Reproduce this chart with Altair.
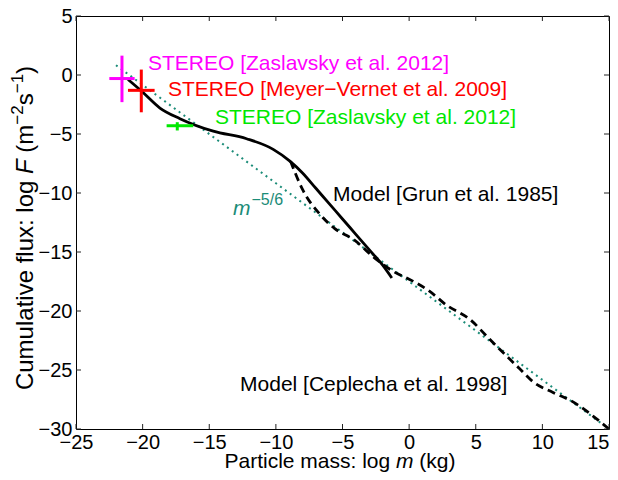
import altair as alt
import pandas as pd

# ---------------- data ----------------
grun_logm = [-21.1, -20.05, -18.7, -17.2, -14.7, -12.2, -10.2, -8.95, -8.0, -7.0, -6.0, -5.0, -4.0, -3.0, -2.0, -1.3]
grun_logF = [-0.38, -1.4, -2.8, -3.7, -4.76, -5.4, -6.3, -7.3, -8.3, -9.6, -10.9, -12.2, -13.5, -14.8, -16.1, -17.2]

cep_logm = [-8.9, -8.0, -6.7, -5.6, -4.1, -2.6, -1.1, 0.0, 1.5, 2.8, 4.55, 6.05, 7.3, 8.3, 9.3, 10.8, 12.3, 13.8, 15.0]
cep_logF = [-7.3, -9.7, -11.8, -13.0, -14.0, -15.5, -16.7, -17.3, -18.3, -19.5, -20.7, -22.4, -23.8, -24.9, -26.0, -26.9, -27.7, -28.9, -30.0]

pow_logm = [-22.0, 15.0]
pow_logF = [0.83, -30.0]

obs_labels = ["STEREO [Zaslavsky et al. 2012]",
              "STEREO [Meyer\u2212Vernet et al. 2009]",
              "STEREO [Zaslavsky et al. 2012]"]
obs_colors = ["#ff00ff", "#ff0000", "#00e800"]
obs_m = [-21.55, -20.1, -17.4]
obs_m_lo = [-22.5, -21.1, -18.2]
obs_m_hi = [-20.6, -19.1, -16.2]
obs_F = [-0.3, -1.3, -4.3]
obs_F_lo = [-2.3, -3.16, -4.7]
obs_F_hi = [1.64, 0.46, -4.0]
obs_text_m = [-19.6, -18.1, -14.57]
obs_text_F = [0.46, -1.81, -4.17]

model_labels = ["Model [Grun et al. 1985]", "Model [Ceplecha et al. 1998]"]
model_text_m = [-5.71, -12.69]
model_text_F = [-10.65, -26.8]

slope_label = ["m", "\u22125/6"]
slope_text_m = [-13.22]
slope_text_F = [-11.9]

x_ticks = [-25, -20, -15, -10, -5, 0, 5, 10, 15]
y_ticks = [5, 0, -5, -10, -15, -20, -25, -30]

# ---------------- styling ----------------
W, H = 533, 413
FONT = "Liberation Sans"
FS_TICK = 20
FS_ANN = 21
FS_XT = 21
FS_YT = 24
SUP_YT = 17
SUP_M = 16
TEAL = "#1b8c78"

AW = {' ': 278, '(': 333, ')': 333, '[': 278, ']': 278, ':': 278, '.': 278, '/': 278,
      '\u2212': 584, '-': 333,
      'C': 722, 'F': 611, 'M': 833, 'P': 667, 'S': 667, 'T': 611, 'E': 667, 'R': 722,
      'a': 556, 'b': 556, 'c': 500, 'd': 556, 'e': 556, 'f': 278, 'g': 556, 'h': 556,
      'i': 222, 'k': 500, 'l': 222, 'm': 833, 'n': 556, 'o': 556, 'p': 556, 'r': 333,
      's': 500, 't': 278, 'u': 556, 'v': 500, 'x': 500, 'y': 500}


def tw(s, size):
    return sum(AW.get(c, 556) for c in s) * size / 1000.0


xs = alt.Scale(domain=[-25, 15], nice=False, zero=False)
ys = alt.Scale(domain=[-30, 5], nice=False, zero=False)

xaxis = alt.Axis(values=x_ticks, title=None, ticks=False, domain=False, grid=False,
                 labelFontSize=FS_TICK, labelFont=FONT, labelColor="black", labelPadding=3,
                 labelFlush=False, labelOverlap=False,
                 labelAlign={"expr": "datum.value == 15 ? 'right' : 'center'"})
yaxis = alt.Axis(values=y_ticks, title=None, ticks=False, domain=False, grid=False,
                 labelFontSize=FS_TICK, labelFont=FONT, labelColor="black", labelPadding=4,
                 labelFlush=False, labelOverlap=False)

pow_df = pd.DataFrame({"m": pow_logm, "F": pow_logF})
grun_df = pd.DataFrame({"m": grun_logm, "F": grun_logF})
cep_df = pd.DataFrame({"m": cep_logm, "F": cep_logF})

powline = alt.Chart(pow_df).mark_line(color=TEAL, strokeWidth=2, strokeDash=[2, 4]).encode(
    x=alt.X("m:Q", scale=xs, axis=xaxis),
    y=alt.Y("F:Q", scale=ys, axis=yaxis),
)
grun = alt.Chart(grun_df).mark_line(color="black", strokeWidth=2.8, interpolate="monotone").encode(
    x=alt.X("m:Q", scale=xs), y=alt.Y("F:Q", scale=ys)
)
cep = alt.Chart(cep_df).mark_line(color="black", strokeWidth=2.8, strokeDash=[8, 5],
                                  interpolate="monotone").encode(
    x=alt.X("m:Q", scale=xs), y=alt.Y("F:Q", scale=ys)
)

obs_df = pd.DataFrame({"m": obs_m, "mlo": obs_m_lo, "mhi": obs_m_hi,
                       "F": obs_F, "Flo": obs_F_lo, "Fhi": obs_F_hi,
                       "c": obs_colors, "label": obs_labels,
                       "tm": obs_text_m, "tF": obs_text_F})

hbar = alt.Chart(obs_df).mark_rule(strokeWidth=3).encode(
    x=alt.X("mlo:Q", scale=xs), x2="mhi:Q", y=alt.Y("F:Q", scale=ys),
    color=alt.Color("c:N", scale=None)
)
vbar = alt.Chart(obs_df).mark_rule(strokeWidth=3).encode(
    x=alt.X("m:Q", scale=xs), y=alt.Y("Flo:Q", scale=ys), y2="Fhi:Q",
    color=alt.Color("c:N", scale=None)
)
obs_text = alt.Chart(obs_df).mark_text(align="left", baseline="alphabetic", font=FONT,
                                       fontSize=FS_ANN).encode(
    x=alt.X("tm:Q", scale=xs), y=alt.Y("tF:Q", scale=ys), text="label:N",
    color=alt.Color("c:N", scale=None)
)

model_df = pd.DataFrame({"m": model_text_m, "F": model_text_F, "label": model_labels})
model_text = alt.Chart(model_df).mark_text(align="left", baseline="alphabetic", font=FONT,
                                           fontSize=FS_ANN, color="black").encode(
    x=alt.X("m:Q", scale=xs), y=alt.Y("F:Q", scale=ys), text="label:N"
)

slope_df = pd.DataFrame({"m": slope_text_m, "F": slope_text_F, "a": [slope_label[0]], "b": [slope_label[1]]})
slope_m = alt.Chart(slope_df).mark_text(align="left", baseline="alphabetic", font=FONT,
                                        fontSize=FS_ANN, fontStyle="italic", color=TEAL).encode(
    x=alt.X("m:Q", scale=xs), y=alt.Y("F:Q", scale=ys), text="a:N"
)
slope_sup = alt.Chart(slope_df).mark_text(align="left", baseline="alphabetic", font=FONT,
                                          fontSize=SUP_M, color=TEAL,
                                          dx=tw("m", FS_ANN) + 1, dy=-10).encode(
    x=alt.X("m:Q", scale=xs), y=alt.Y("F:Q", scale=ys), text="b:N"
)

# inward ticks on all four sides (MATLAB box)
xt_df = pd.DataFrame({"v": x_ticks})
yt_df = pd.DataFrame({"v": y_ticks})
TK = 5
tick_color = "#222222"
tb = alt.Chart(xt_df).mark_rule(color=tick_color, strokeWidth=1).encode(
    x=alt.X("v:Q", scale=xs), y=alt.value(H), y2=alt.value(H - TK))
tt = alt.Chart(xt_df).mark_rule(color=tick_color, strokeWidth=1).encode(
    x=alt.X("v:Q", scale=xs), y=alt.value(0), y2=alt.value(TK))
tl = alt.Chart(yt_df).mark_rule(color=tick_color, strokeWidth=1).encode(
    y=alt.Y("v:Q", scale=ys), x=alt.value(0), x2=alt.value(TK))
tr = alt.Chart(yt_df).mark_rule(color=tick_color, strokeWidth=1).encode(
    y=alt.Y("v:Q", scale=ys), x=alt.value(W), x2=alt.value(W - TK))


# ---------------- axis titles with italic / superscript parts ----------------
def seg_layer(text, x, y, size, italic=False, angle=0):
    kw = dict(align="left", baseline="alphabetic", font=FONT, fontSize=size, color="black")
    if italic:
        kw["fontStyle"] = "italic"
    if angle:
        kw["angle"] = angle
    return alt.Chart(pd.DataFrame({"t": [text]})).mark_text(**kw).encode(
        x=alt.value(x), y=alt.value(y), text="t:N")


# (text, italic, superscript, space after)
xtitle_parts = [("Particle mass: log", False, False, True), ("m", True, False, True), ("(kg)", False, False, False)]
ytitle_parts = [("Cumulative flux: log", False, False, True), ("F", True, False, True), ("(m", False, False, False),
                ("\u22122", False, True, False), ("s", False, False, False), ("\u22121", False, True, False),
                (")", False, False, False)]


def seg_width(p, size, space):
    return tw(p, size) + (tw(" ", size) if space else 0)


title_layers = []
xt_total = sum(seg_width(p, FS_XT, sp) for p, _, _, sp in xtitle_parts)
x0 = 264 - xt_total / 2
xbase = H + 39
for p, it, sup, sp in xtitle_parts:
    title_layers.append(seg_layer(p, x0, xbase, FS_XT, italic=it))
    x0 += seg_width(p, FS_XT, sp)

yt_total = sum(seg_width(p, SUP_YT if sup else FS_YT, sp) for p, _, sup, sp in ytitle_parts)
ybase_x = -43
y0 = 212 + yt_total / 2
for p, it, sup, sp in ytitle_parts:
    size = SUP_YT if sup else FS_YT
    xx = ybase_x - 10 if sup else ybase_x
    title_layers.append(seg_layer(p, xx, y0, size, italic=it, angle=270))
    y0 -= seg_width(p, size, sp)

chart = alt.layer(
    powline, grun, cep, hbar, vbar, obs_text, model_text, slope_m, slope_sup,
    tb, tt, tl, tr, *title_layers
).properties(
    width=W, height=H, autosize="none",
    padding={"left": 68, "top": 8, "right": 1, "bottom": 43},
).configure_view(stroke="black", strokeWidth=1)

chart.save("out.html", embed_options={"renderer": "svg", "actions": False})
